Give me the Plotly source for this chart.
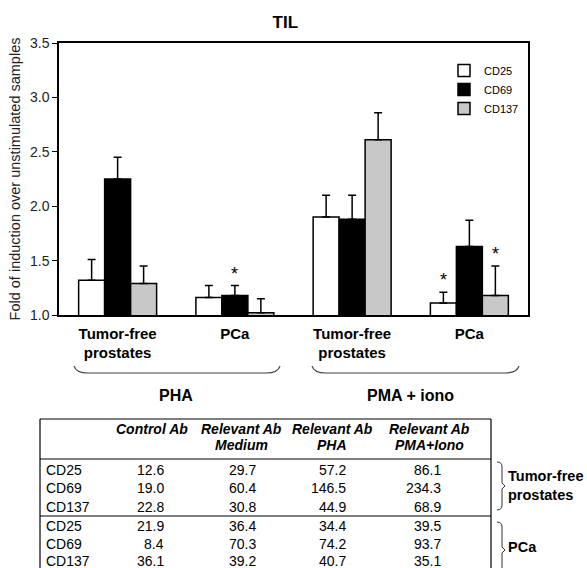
import plotly.graph_objects as go

# ---------------- data ----------------
group_x = [0, 1, 2, 3]
group_labels = ["<b>Tumor-free</b><br><b>prostates</b>", "<b>PCa</b>",
                "<b>Tumor-free</b><br><b>prostates</b>", "<b>PCa</b>"]
series_names = ["CD25", "CD69", "CD137"]
series_colors = ["#ffffff", "#000000", "#c8c8c8"]

cd25 = [1.32, 1.16, 1.90, 1.11]
cd69 = [2.25, 1.18, 1.88, 1.63]
cd137 = [1.29, 1.02, 2.61, 1.18]
cd25_err = [0.19, 0.11, 0.20, 0.10]
cd69_err = [0.20, 0.09, 0.22, 0.24]
cd137_err = [0.16, 0.13, 0.25, 0.27]

# significance stars: (group index, series index)
stars = [(1, 1), (3, 0), (3, 2)]

stim_labels = ["PHA", "PMA + iono"]

table_header_1 = ["Control Ab", "Relevant Ab", "Relevant Ab", "Relevant Ab"]
table_header_2 = ["", "Medium", "PHA", "PMA+Iono"]
table_rows = ["CD25", "CD69", "CD137", "CD25", "CD69", "CD137"]
control_ab = ["12.6", "19.0", "22.8", "21.9", "8.4", "36.1"]
relevant_medium = ["29.7", "60.4", "30.8", "36.4", "70.3", "39.2"]
relevant_pha = ["57.2", "146.5", "44.9", "34.4", "74.2", "40.7"]
relevant_pma = ["86.1", "234.3", "68.9", "39.5", "93.7", "35.1"]
table_groups = ["<b>Tumor-free</b><br><b>prostates</b>", "<b>PCa</b>"]

# ---------------- layout helpers (pixel -> paper) ----------------
W, H = 587, 568
L, R, T, B = 59, 59, 43, 253
PW, PH = W - L - R, H - T - B
FONT = "Liberation Sans, Arial, sans-serif"


def px(p):
    return (p - L) / PW


def py(p):
    return (H - B - p) / PH


values = [cd25, cd69, cd137]
errors = [cd25_err, cd69_err, cd137_err]

fig = go.Figure()
for name, col, v, e in zip(series_names, series_colors, values, errors):
    fig.add_trace(go.Bar(
        x=group_x, y=v, name=name,
        marker=dict(color=col, line=dict(color="black", width=1.5)),
        error_y=dict(type="data", array=e, arrayminus=[0] * len(e),
                     symmetric=False, color="black", thickness=1.5, width=4),
    ))

gap = 0.335
bar_w = (1 - gap) / 3
annotations = []
for gi, si in stars:
    annotations.append(dict(
        x=group_x[gi] + (si - 1) * bar_w, y=values[si][gi] + errors[si][gi],
        xref="x", yref="y", text="*", showarrow=False,
        font=dict(family=FONT, size=18, color="black"),
        xanchor="center", yanchor="bottom", yshift=0))

# stimulation group labels and braces
for lab, cx in zip(stim_labels, [0.5, 2.5]):
    annotations.append(dict(x=cx, y=py(395), xref="x", yref="paper", text="<b>%s</b>" % lab,
                            showarrow=False, font=dict(family=FONT, size=16, color="black"),
                            xanchor="center", yanchor="middle"))

shapes = []
for x0, x1 in [(74, 280), (312, 519)]:
    yt, yb = 366, 373
    path = "M %f,%f Q %f,%f %f,%f L %f,%f Q %f,%f %f,%f" % (
        px(x0), py(yt), px(x0 + 2), py(yb), px(x0 + 14), py(yb),
        px(x1 - 14), py(yb), px(x1 - 2), py(yb), px(x1), py(yt))
    shapes.append(dict(type="path", path=path, xref="paper", yref="paper",
                       line=dict(color="#444444", width=1.1)))

# ---------------- table ----------------
tl, tr = 40, 491
for yy in [419, 459, 516]:
    shapes.append(dict(type="line", xref="paper", yref="paper", x0=px(tl), x1=px(tr),
                       y0=py(yy), y1=py(yy), line=dict(color="black", width=1.2)))
for xx in [tl, tr]:
    shapes.append(dict(type="line", xref="paper", yref="paper", x0=px(xx), x1=px(xx),
                       y0=py(419), y1=py(580), line=dict(color="black", width=1.2)))

head_cx = [152, 241, 332, 429]
for txt, cx in zip(table_header_1, head_cx):
    annotations.append(dict(x=px(cx), y=py(429), xref="paper", yref="paper",
                            text="<b><i>%s</i></b>" % txt, showarrow=False,
                            xanchor="center", yanchor="middle",
                            font=dict(family=FONT, size=14, color="black")))
for txt, cx in zip(table_header_2, head_cx):
    if txt:
        annotations.append(dict(x=px(cx), y=py(445), xref="paper", yref="paper",
                                text="<b><i>%s</i></b>" % txt, showarrow=False,
                                xanchor="center", yanchor="middle",
                                font=dict(family=FONT, size=14, color="black")))

row_y = [470, 488, 507, 526, 544, 561]
col_right = [166, 258, 348, 443]
cols = [control_ab, relevant_medium, relevant_pha, relevant_pma]
for ri, (lab, yy) in enumerate(zip(table_rows, row_y)):
    annotations.append(dict(x=px(tl + 4), y=py(yy), xref="paper", yref="paper", text=lab,
                            showarrow=False, xanchor="left", yanchor="middle",
                            font=dict(family=FONT, size=14, color="black")))
    for cvals, xr in zip(cols, col_right):
        annotations.append(dict(x=px(xr), y=py(yy), xref="paper", yref="paper",
                                text=cvals[ri], showarrow=False,
                                xanchor="right", yanchor="middle",
                                font=dict(family=FONT, size=14, color="black")))

# right-side braces of the table
for (y0, y1), lab, ly in zip([(462, 510), (522, 578)], table_groups, [485, 547]):
    ym = (y0 + y1) / 2
    path = ("M %f,%f Q %f,%f %f,%f L %f,%f L %f,%f L %f,%f L %f,%f Q %f,%f %f,%f" % (
        px(497), py(y0), px(502), py(y0), px(502), py(y0 + 5),
        px(502), py(ym - 3), px(505), py(ym), px(502), py(ym + 3),
        px(502), py(y1 - 5), px(502), py(y1), px(497), py(y1)))
    shapes.append(dict(type="path", path=path, xref="paper", yref="paper",
                       line=dict(color="#333333", width=1)))
    annotations.append(dict(x=px(506), y=py(ly), xref="paper", yref="paper", text=lab,
                            showarrow=False, xanchor="left", yanchor="middle", align="left",
                            font=dict(family=FONT, size=14.5, color="black")))

fig.update_layout(
    width=W, height=H, autosize=False,
    margin=dict(l=L, r=R, t=T, b=B, pad=0),
    paper_bgcolor="white", plot_bgcolor="white",
    barmode="group", bargap=gap, bargroupgap=0,
    title=dict(text="<b>TIL</b>", x=px(287), xanchor="center", y=1 - 22 / H, yanchor="middle",
               font=dict(family=FONT, size=17, color="black")),
    font=dict(family=FONT, size=13, color="black"),
    xaxis=dict(range=[-0.5, 3.5], tickvals=group_x, ticktext=group_labels,
               showline=True, mirror=True, linecolor="black", linewidth=1.5,
               ticks="", showgrid=False, zeroline=False, ticklabelstandoff=4,
               tickfont=dict(family=FONT, size=15, color="black")),
    yaxis=dict(range=[1.0, 3.5], dtick=0.5, tickformat=".1f",
               showline=True, mirror=True, linecolor="black", linewidth=1.5,
               ticks="outside", ticklen=5, tickwidth=1.2, tickcolor="black",
               showgrid=False, zeroline=False,
               tickfont=dict(family=FONT, size=14, color="#222222"),
               title=dict(text="Fold of induction over unstimulated samples",
                          font=dict(family=FONT, size=14.5, color="#222222"), standoff=6)),
    legend=dict(x=px(444), y=py(56), xanchor="left", yanchor="top",
                bgcolor="rgba(0,0,0,0)", font=dict(family=FONT, size=11, color="black"),
                itemwidth=30, tracegroupgap=0),
    showlegend=True,
    annotations=annotations,
    shapes=shapes,
)

fig.write_html("out.html", config={"displayModeBar": False},
               post_script="document.body.style.margin='0px';")
